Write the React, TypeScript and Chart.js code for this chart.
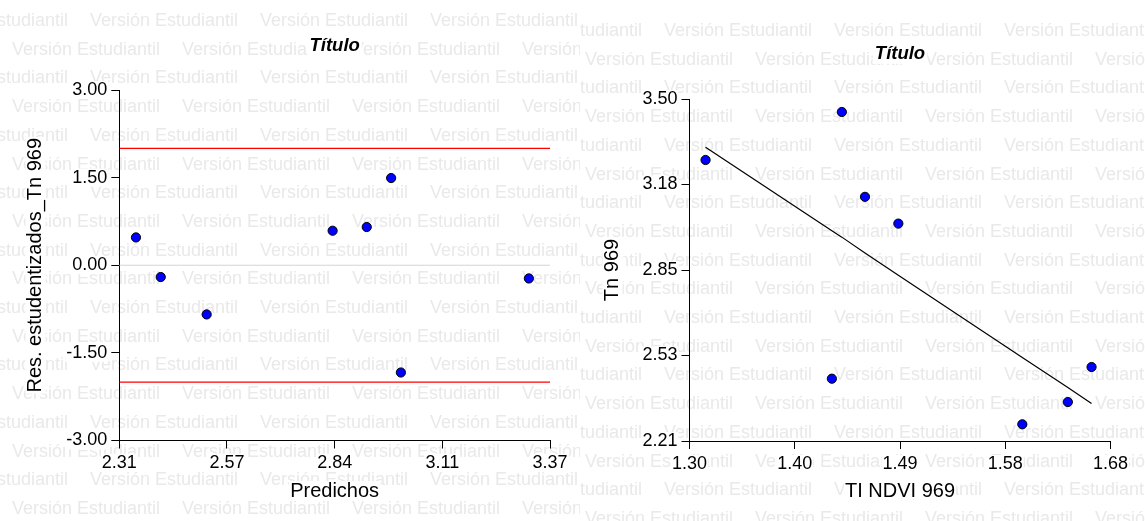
import React, { useEffect, useRef } from 'react';
import { Chart, registerables } from 'chart.js';

Chart.register(...registerables);

// ---------- data ----------
const predichos = [2.351, 2.412, 2.525, 2.835, 2.919, 2.979, 3.003, 3.318];
const residuos = [0.476, -0.202, -0.842, 0.591, 0.654, 1.493, -1.836, -0.226];

const ndvi = [1.6629, 1.6415, 1.6004, 1.4885, 1.4584, 1.4375, 1.4285, 1.3145];
const tn = [2.489, 2.357, 2.273, 3.03, 3.131, 3.451, 2.445, 3.27];

const limitesResiduos = [-2, 2];
const lineaCero = 0;

const leftXTicks = ['2.31', '2.57', '2.84', '3.11', '3.37'];
const leftYTicks = ['-3.00', '-1.50', '0.00', '1.50', '3.00'];
const rightXTicks = ['1.30', '1.40', '1.49', '1.58', '1.68'];
const rightYTicks = ['2.21', '2.53', '2.85', '3.18', '3.50'];

const tituloGrafico = 'Título';
const tituloXLeft = 'Predichos';
const tituloYLeft = 'Res. estudentizados_Tn 969';
const tituloXRight = 'TI NDVI 969';
const tituloYRight = 'Tn 969';
const marcaAgua = 'Versión Estudiantil';

// ---------- styles ----------
const FAMILY = "'Liberation Sans', Arial, Helvetica, sans-serif";
const TICK_SIZE = 18;
const AXIS_TITLE_SIZE = 20;
const TITLE_SIZE = 18.5;
const TICK_LEN = 8;

function rangeOf(labels: string[]) {
  return { min: parseFloat(labels[0]), max: parseFloat(labels[labels.length - 1]) };
}

function fixedTicks(labels: string[]) {
  const { min, max } = rangeOf(labels);
  return {
    afterBuildTicks: (scale: any) => {
      scale.ticks = labels.map((_, i) => ({ value: min + (i * (max - min)) / (labels.length - 1) }));
    },
    callback: (_v: any, i: number) => labels[i],
  };
}

interface Geo {
  yAxisWidth: number;
  xAxisHeight: number;
  padRight: number;
  titleTop: number;
  titleBottom: number;
  xTitleBottom: number;
  yTitleTop: number;
  xTickPad: number;
  wmXA: number;
  wmXB: number;
  wmY0: number;
  xTitle: string;
  yTitle: string;
}

function backgroundPlugin(geo: Geo) {
  return {
    id: 'fondoMarcaAgua',
    beforeDraw(chart: any) {
      const ctx: CanvasRenderingContext2D = chart.ctx;
      const width = chart.width;
      const height = chart.height;
      ctx.save();
      ctx.fillStyle = '#ffffff';
      ctx.fillRect(0, 0, width, height);
      // watermark
      ctx.font = `18px ${FAMILY}`;
      ctx.fillStyle = '#e9e9e9';
      ctx.textBaseline = 'alphabetic';
      ctx.textAlign = 'left';
      const period = 170;
      for (let k = 0; k < 20; k++) {
        const y = geo.wmY0 + k * 28.7;
        const isA = k % 2 === 0;
        let x0 = isA ? geo.wmXA : geo.wmXB;
        while (x0 > -period) x0 -= period;
        for (let x = x0; x < width; x += period) ctx.fillText(marcaAgua, x, y);
      }
      // white boxes behind texts
      ctx.fillStyle = '#ffffff';
      const tb = chart.titleBlock;
      if (tb) {
        ctx.font = `italic bold ${TITLE_SIZE}px ${FAMILY}`;
        const w = ctx.measureText(tituloGrafico).width;
        const cx = (tb.left + tb.right) / 2;
        const cy = tb.top + geo.titleTop + (TITLE_SIZE * 1.2) / 2;
        ctx.fillRect(cx - w / 2 - 2, cy - TITLE_SIZE / 2 - 1, w + 4, TITLE_SIZE + 2);
      }
      const xs = chart.scales.x;
      const ys = chart.scales.y;
      ctx.font = `${TICK_SIZE}px ${FAMILY}`;
      xs.ticks.forEach((t: any, i: number) => {
        const px = xs.getPixelForTick(i);
        const w = ctx.measureText(String(t.label)).width;
        const cy = xs.top + TICK_LEN + geo.xTickPad + (TICK_SIZE * 1.2) / 2;
        ctx.fillRect(px - w / 2 - 1, cy - TICK_SIZE / 2, w + 2, TICK_SIZE);
      });
      ys.ticks.forEach((t: any, i: number) => {
        const py = ys.getPixelForTick(i);
        const w = ctx.measureText(String(t.label)).width;
        const right = ys.right - TICK_LEN - 4;
        ctx.fillRect(right - w - 1, py - TICK_SIZE / 2, w + 2, TICK_SIZE);
      });
      ctx.font = `${AXIS_TITLE_SIZE}px ${FAMILY}`;
      const wx = ctx.measureText(geo.xTitle).width;
      const cxT = (chart.chartArea.left + chart.chartArea.right) / 2;
      const cyT = xs.bottom - geo.xTitleBottom - (AXIS_TITLE_SIZE * 1.2) / 2;
      ctx.fillRect(cxT - wx / 2 - 1, cyT - AXIS_TITLE_SIZE / 2, wx + 2, AXIS_TITLE_SIZE);
      const wy = ctx.measureText(geo.yTitle).width;
      const cxY = ys.left + geo.yTitleTop + (AXIS_TITLE_SIZE * 1.2) / 2;
      const cyY = (ys.top + ys.bottom) / 2;
      ctx.fillRect(cxY - AXIS_TITLE_SIZE / 2, cyY - wy / 2 - 1, AXIS_TITLE_SIZE, wy + 2);
      ctx.restore();
    },
  };
}

function makeOptions(geo: Geo, xLabels: string[], yLabels: string[]) {
  const xr = rangeOf(xLabels);
  const yr = rangeOf(yLabels);
  const xt = fixedTicks(xLabels);
  const yt = fixedTicks(yLabels);
  return {
    animation: false,
    responsive: false,
    events: [],
    layout: { padding: { left: 0, right: geo.padRight, top: 0, bottom: 0 } },
    plugins: {
      legend: { display: false },
      tooltip: { enabled: false },
      title: {
        display: true,
        text: tituloGrafico,
        fullSize: false,
        color: '#000',
        font: { family: FAMILY, size: TITLE_SIZE, weight: 'bold', style: 'italic' },
        padding: { top: geo.titleTop, bottom: geo.titleBottom },
      },
    },
    scales: {
      x: {
        type: 'linear',
        min: xr.min,
        max: xr.max,
        afterBuildTicks: xt.afterBuildTicks,
        afterFit: (s: any) => {
          s.height = geo.xAxisHeight;
        },
        grid: { display: true, drawOnChartArea: false, drawTicks: true, tickLength: TICK_LEN, color: '#000', lineWidth: 1 },
        border: { display: true, color: '#000', width: 1 },
        ticks: {
          callback: xt.callback,
          color: '#000',
          font: { family: FAMILY, size: TICK_SIZE },
          padding: geo.xTickPad,
          maxRotation: 0,
          minRotation: 0,
          autoSkip: false,
        },
        title: {
          display: true,
          text: geo.xTitle,
          color: '#000',
          font: { family: FAMILY, size: AXIS_TITLE_SIZE },
          padding: { top: 0, bottom: geo.xTitleBottom },
        },
      },
      y: {
        type: 'linear',
        min: yr.min,
        max: yr.max,
        afterBuildTicks: yt.afterBuildTicks,
        afterFit: (s: any) => {
          s.width = geo.yAxisWidth;
        },
        grid: { display: true, drawOnChartArea: false, drawTicks: true, tickLength: TICK_LEN, color: '#000', lineWidth: 1 },
        border: { display: true, color: '#000', width: 1 },
        ticks: {
          callback: yt.callback,
          color: '#000',
          font: { family: FAMILY, size: TICK_SIZE },
          padding: 4,
          autoSkip: false,
        },
        title: {
          display: true,
          text: geo.yTitle,
          color: '#000',
          font: { family: FAMILY, size: AXIS_TITLE_SIZE },
          padding: { top: geo.yTitleTop, bottom: 0 },
        },
      },
    },
  };
}

const pointStyle = {
  backgroundColor: '#0000ff',
  borderColor: '#000000',
  borderWidth: 1,
  pointRadius: 4.6,
  pointHoverRadius: 4.6,
};

const leftGeo: Geo = {
  yAxisWidth: 119.3,
  xAxisHeight: 80.5,
  padRight: 30,
  titleTop: 34.4,
  titleBottom: 33.4,
  xTitleBottom: 18,
  yTitleTop: 23.5,
  xTickPad: 3.4,
  wmXA: -80,
  wmXB: 12,
  wmY0: 26,
  xTitle: tituloXLeft,
  yTitle: tituloYLeft,
};

const rightGeo: Geo = {
  yAxisWidth: 109.5,
  xAxisHeight: 80,
  padRight: 34.5,
  titleTop: 42.4,
  titleBottom: 34.4,
  xTitleBottom: 17.3,
  yTitleTop: 20.5,
  xTickPad: 4.2,
  wmXA: -86,
  wmXB: 5,
  wmY0: 36,
  xTitle: tituloXRight,
  yTitle: tituloYRight,
};

function leftConfig(): any {
  const xr = rangeOf(leftXTicks);
  const hline = (v: number, color: string) => ({
    type: 'line',
    data: [
      { x: xr.min, y: v },
      { x: xr.max, y: v },
    ],
    borderColor: color,
    borderWidth: 1.2,
    pointRadius: 0,
    fill: false,
  });
  return {
    type: 'scatter',
    data: {
      datasets: [
        { type: 'scatter', data: predichos.map((x, i) => ({ x, y: residuos[i] })), ...pointStyle },
        ...limitesResiduos.map((v) => hline(v, '#ff0000')),
        hline(lineaCero, '#d4d4d4'),
      ],
    },
    options: makeOptions(leftGeo, leftXTicks, leftYTicks),
    plugins: [backgroundPlugin(leftGeo)],
  };
}

function rightConfig(): any {
  const fit = ndvi
    .map((x, i) => ({ x, y: predichos[i] }))
    .sort((a, b) => a.x - b.x);
  return {
    type: 'scatter',
    data: {
      datasets: [
        { type: 'scatter', data: ndvi.map((x, i) => ({ x, y: tn[i] })), ...pointStyle },
        {
          type: 'line',
          data: fit,
          borderColor: '#000000',
          borderWidth: 1.2,
          pointRadius: 0,
          fill: false,
          tension: 0,
        },
      ],
    },
    options: makeOptions(rightGeo, rightXTicks, rightYTicks),
    plugins: [backgroundPlugin(rightGeo)],
  };
}

function ChartCanvas({ make, left, width, height }: { make: () => any; left: number; width: number; height: number }) {
  const ref = useRef<HTMLCanvasElement>(null);
  useEffect(() => {
    const chart = new Chart(ref.current as HTMLCanvasElement, make());
    return () => chart.destroy();
  }, []);
  return (
    <canvas
      ref={ref}
      width={width}
      height={height}
      style={{ position: 'absolute', left, top: 0, width, height, display: 'block' }}
    />
  );
}

export default function App() {
  return (
    <div
      style={{
        position: 'absolute',
        left: 0,
        top: 0,
        width: 1145,
        height: 521,
        background: '#ffffff',
        overflow: 'hidden',
      }}
    >
      <ChartCanvas make={leftConfig} left={0} width={580} height={521} />
      <ChartCanvas make={rightConfig} left={580} width={565} height={521} />
    </div>
  );
}
